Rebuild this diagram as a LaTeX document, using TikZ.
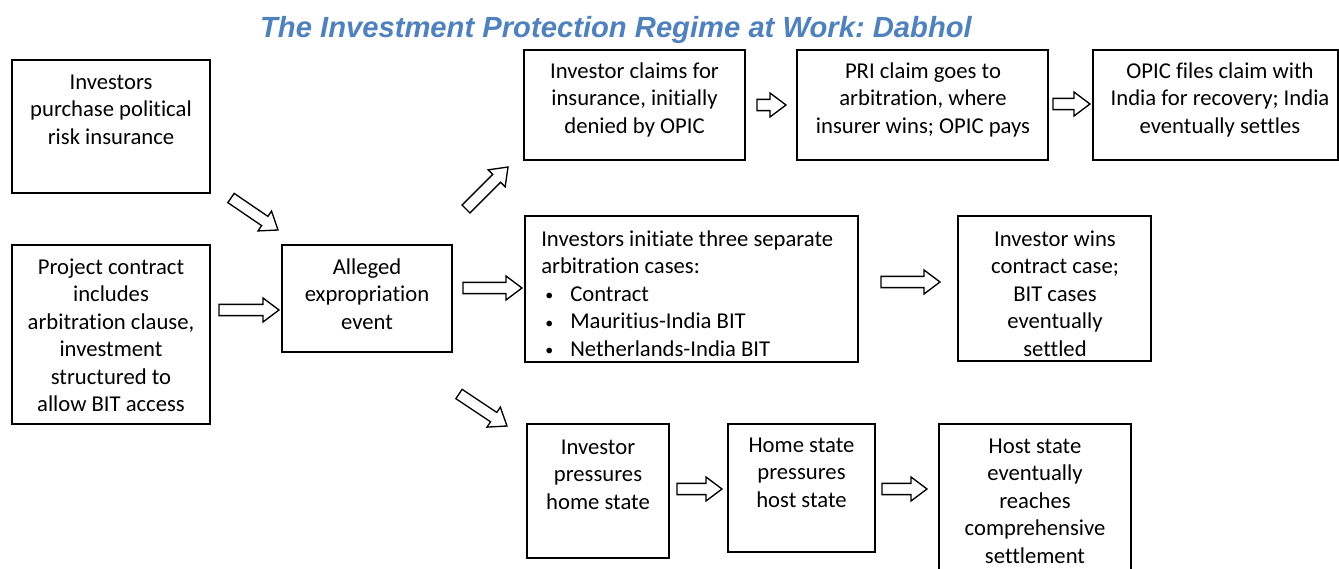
\documentclass[tikz,border=0pt]{standalone}
\usepackage{fontspec}
\setmainfont{Carlito}[Ligatures=NoCommon]
\newfontfamily\titlefont{Liberation Sans}
\usetikzlibrary{calc}
\definecolor{titleblue}{HTML}{4F81BD}
\frenchspacing
\tikzset{
  box/.style={draw=black, line width=1.2pt, inner sep=0pt},
  txt/.style={inner sep=0pt, align=center, anchor=north, font=\fontsize{17}{20.6}\selectfont},
  blockarrow/.style={draw=black, line width=1pt, fill=white, line join=miter},
}
\newcommand{\boxat}[5]{%
  \node[box, minimum width={(#4-#2)*0.75pt}, minimum height={(#5-#3)*0.75pt}] (#1) at ({(#2+#4)/2},{(#3+#5)/2}) {};}
\newcommand{\blockarr}[2]{%
  \coordinate (hb) at ($(#2)!12pt!(#1)$);
  \draw[blockarrow] ($(#1)!4.2pt!90:(#2)$) -- ($(hb)!4.2pt!90:(#2)$) -- ($(hb)!9pt!90:(#2)$) -- (#2)
    -- ($(hb)!9pt!-90:(#2)$) -- ($(hb)!4.2pt!-90:(#2)$) -- ($(#1)!4.2pt!-90:(#2)$) -- cycle;}
\newcommand{\bulitem}{\hspace*{3pt}\makebox[18.75pt][l]{\raisebox{0.5pt}{\fontsize{12}{12}\selectfont•}}}
\begin{document}
\begin{tikzpicture}[x=0.75pt, y=-0.75pt]
\useasboundingbox (0,0) rectangle (1339,568);
% title
\node[inner sep=0pt, anchor=base, text=titleblue, font=\titlefont\fontsize{21.9}{24}\selectfont\bfseries\itshape] (title) at (616,37) {The Investment Protection Regime at Work: Dabhol};
% boxes
\boxat{b1}{12}{60}{210}{193}
\boxat{b2}{12}{245}{210}{424}
\boxat{b3}{282}{245}{452}{352}
\boxat{b4}{524}{50}{745}{160}
\boxat{b5}{797}{50}{1048}{160}
\boxat{b6}{1093}{50}{1338}{160}
\boxat{b7}{525}{216}{858}{362}
\boxat{b8}{958}{216}{1151}{361}
\boxat{b9}{527}{424}{669}{558}
\boxat{b10}{728}{424}{875}{552}
\boxat{b11}{939}{424}{1131}{580}
% texts
\node[txt] (t1) at (111,70) {\strut Investors\\purchase political\\risk insurance};
\node[txt] (t2) at (111,255) {\strut Project contract\\includes\\arbitration clause,\\investment\\structured to\\allow BIT access};
\node[txt] (t3) at (367,255) {\strut Alleged\\expropriation\\event};
\node[txt] (t4) at (634.5,59) {\strut Investor claims for\\insurance, initially\\denied by OPIC};
\node[txt] (t5) at (923,59) {\strut PRI claim goes to\\arbitration, where\\insurer wins; OPIC pays};
\node[txt] (t6) at (1220,59) {\strut OPIC files claim with\\India for recovery; India\\eventually settles};
\node[txt, align=left, anchor=north west] (t7) at (541,227) {\strut Investors initiate three separate\\arbitration cases:\\
  \bulitem Contract\\
  \bulitem Mauritius-India BIT\\
  \bulitem Netherlands-India BIT};
\node[txt] (t8) at (1055,227) {\strut Investor wins\\contract case;\\BIT cases\\eventually\\settled};
\node[txt] (t9) at (598,435) {\strut Investor\\pressures\\home state};
\node[txt] (t10) at (801.5,433) {\strut Home state\\pressures\\host state};
\node[txt] (t11) at (1035,434) {\strut Host state\\eventually\\reaches\\comprehensive\\settlement};
% arrow end points
\coordinate (a1s) at (231,198); \coordinate (a1e) at (278,230);
\coordinate (a2s) at (219,310); \coordinate (a2e) at (279,310);
\coordinate (a3s) at (466,209); \coordinate (a3e) at (508,167);
\coordinate (a4s) at (463,288); \coordinate (a4e) at (522,288);
\coordinate (a5s) at (459,394); \coordinate (a5e) at (507,426);
\coordinate (a6s) at (757,105); \coordinate (a6e) at (786,105);
\coordinate (a7s) at (1053,104); \coordinate (a7e) at (1090,104);
\coordinate (a8s) at (881,282); \coordinate (a8e) at (940,282);
\coordinate (a9s) at (677,489); \coordinate (a9e) at (722,489);
\coordinate (a10s) at (882,489); \coordinate (a10e) at (927,489);
\blockarr{a1s}{a1e}
\blockarr{a2s}{a2e}
\blockarr{a3s}{a3e}
\blockarr{a4s}{a4e}
\blockarr{a5s}{a5e}
\blockarr{a6s}{a6e}
\blockarr{a7s}{a7e}
\blockarr{a8s}{a8e}
\blockarr{a9s}{a9e}
\blockarr{a10s}{a10e}
\end{tikzpicture}
\end{document}
